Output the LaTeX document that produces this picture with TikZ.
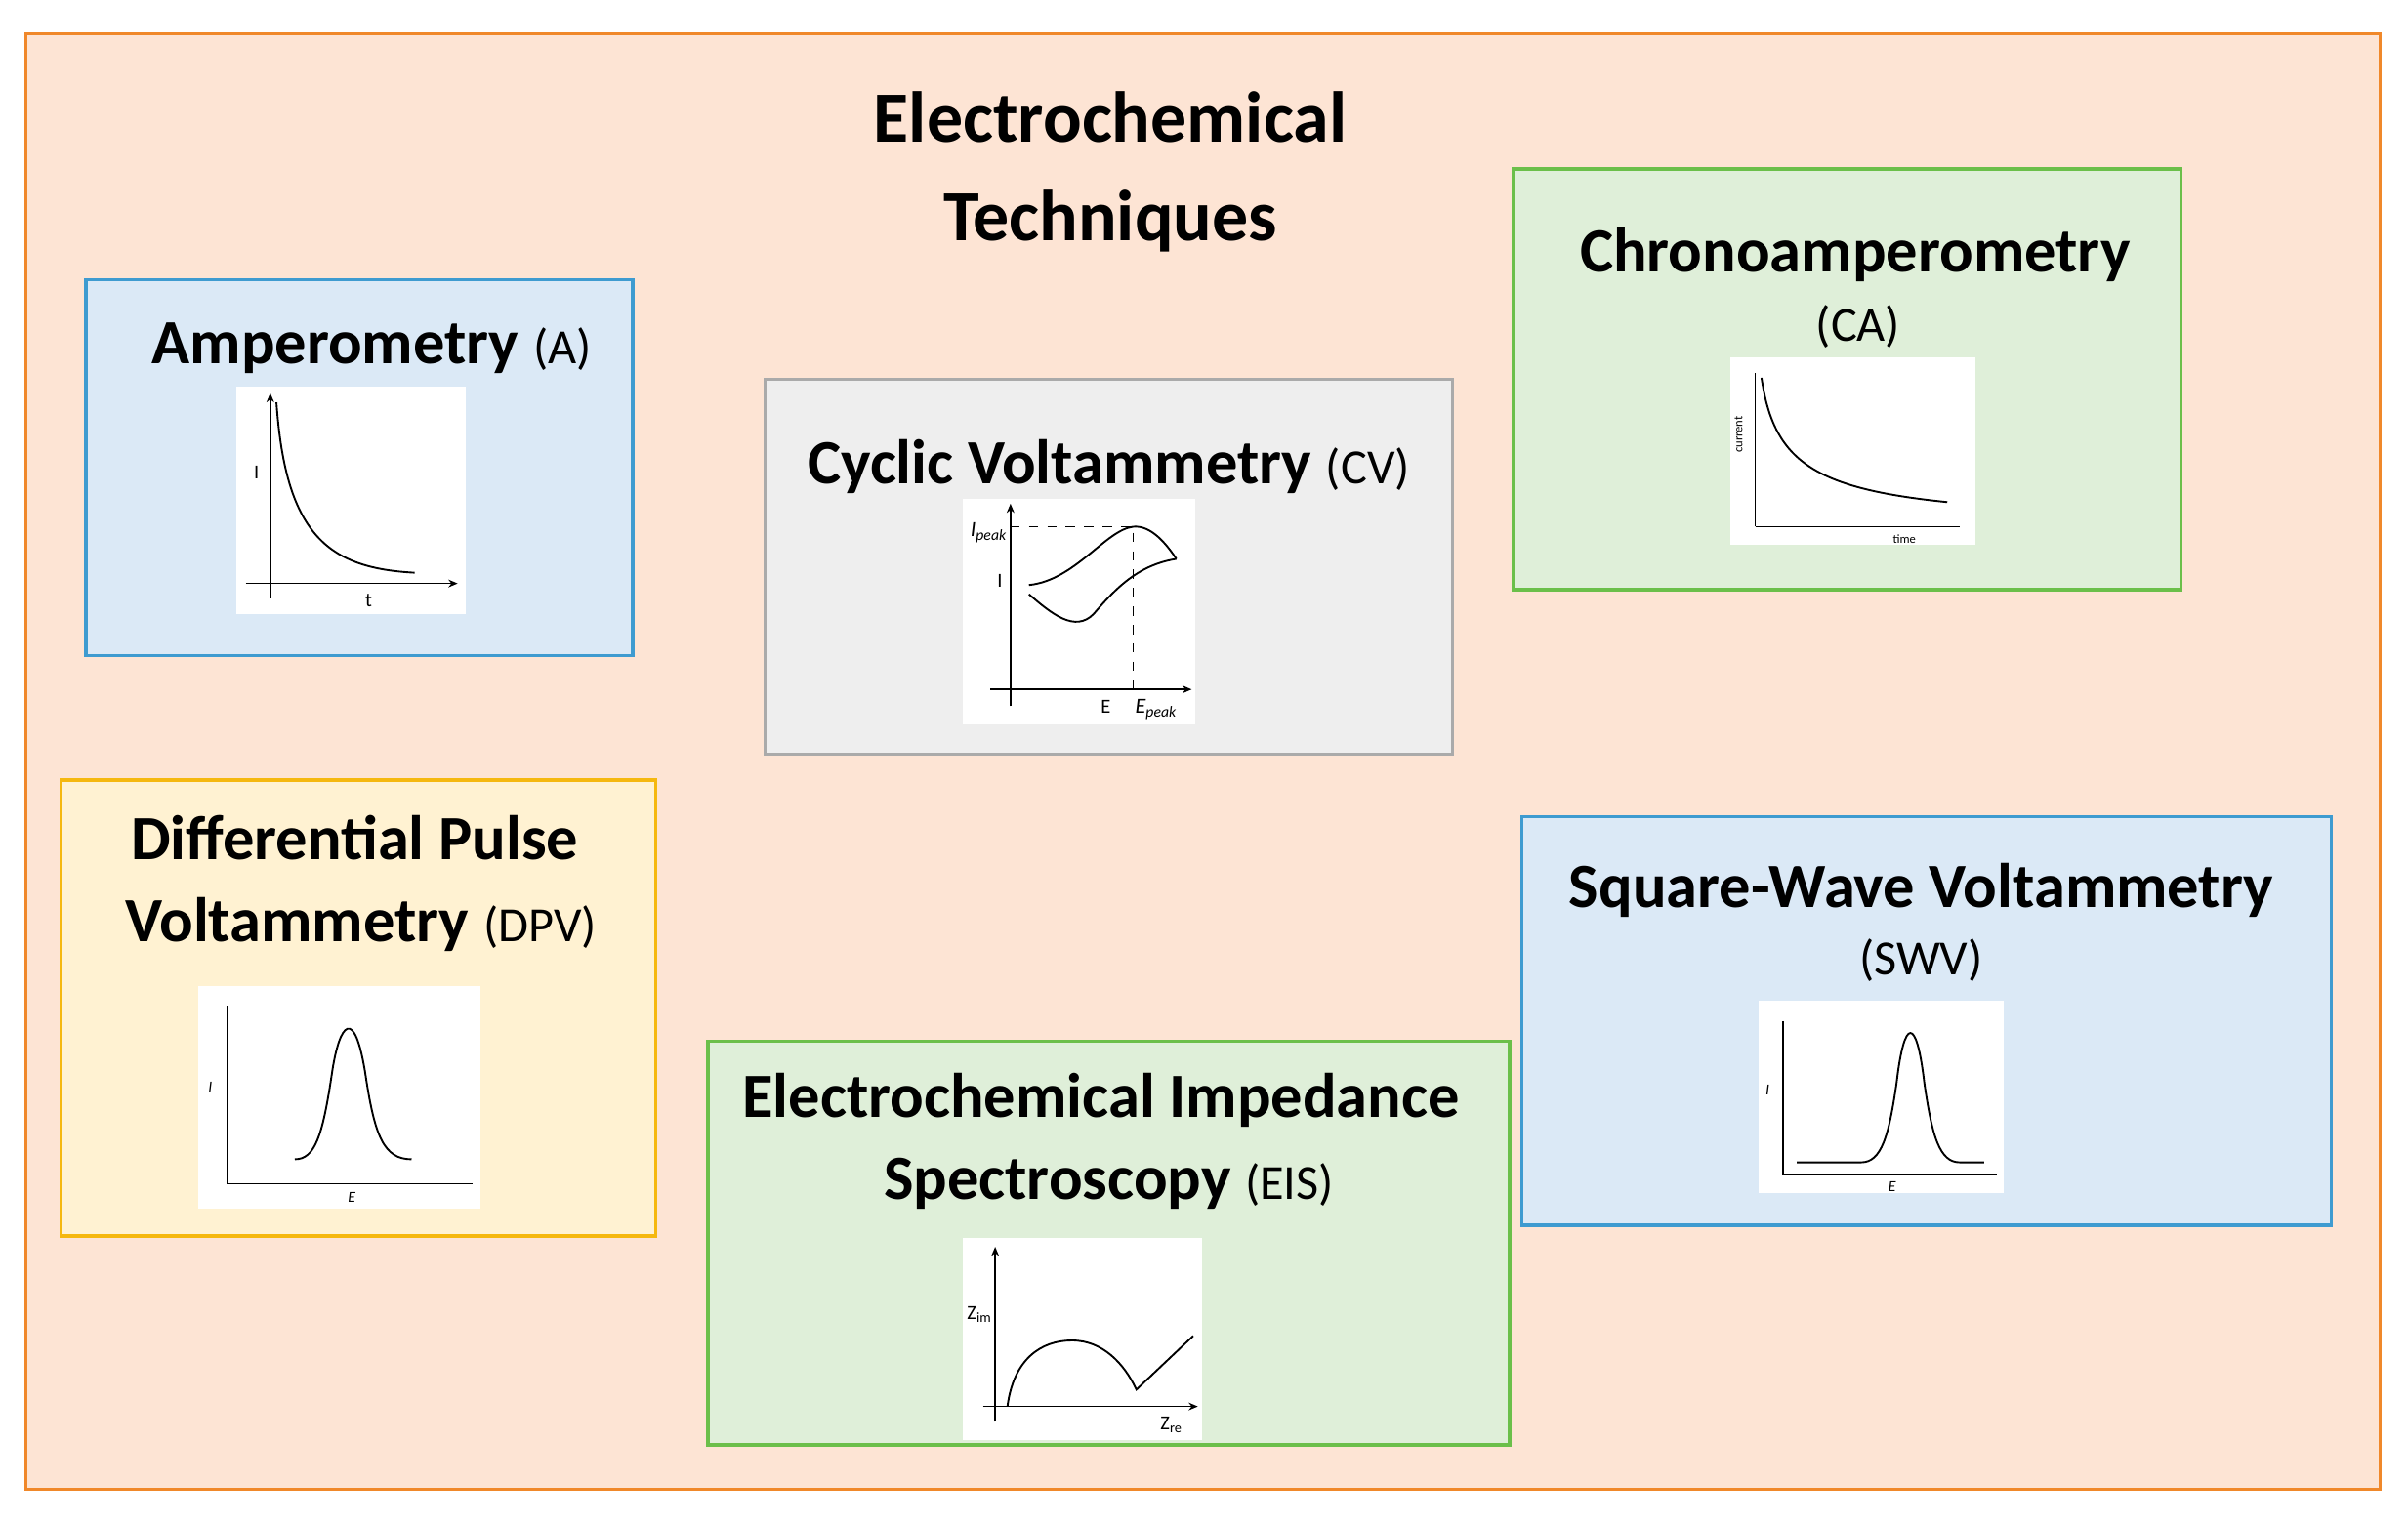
\documentclass[tikz,border=0pt]{standalone}
\usepackage{fontspec}
\setmainfont{Carlito}
\usetikzlibrary{arrows.meta}
\definecolor{peach}{HTML}{FDE4D4}
\definecolor{orangeb}{HTML}{F0882A}
\definecolor{lblue}{HTML}{DBE9F6}
\definecolor{bblue}{HTML}{3E9BD0}
\definecolor{lgray}{HTML}{EEEEEE}
\definecolor{ggray}{HTML}{AAAAAA}
\definecolor{lgreen}{HTML}{DFEFD9}
\definecolor{ggreen}{HTML}{6BBF4A}
\definecolor{lyel}{HTML}{FFF2D2}
\definecolor{yel}{HTML}{F5B80F}
\begin{document}
\begin{tikzpicture}[x=0.5pt,y=-0.5pt,
  box/.style={line width=1pt},
  plotbg/.style={fill=white,draw=none},
  ax/.style={line width=0.5pt,-{Stealth[length=3pt,width=2.5pt]}},
  axn/.style={line width=0.5pt},
  crv/.style={line width=0.6pt},
  ttl/.style={font=\fontsize{20.5}{24}\selectfont\bfseries,align=center},
  abb/.style={font=\fontsize{16}{20}\selectfont},
  lab/.style={font=\fontsize{6.5}{7}\selectfont,inner sep=0pt},
  tiny/.style={font=\fontsize{4}{5}\selectfont,inner sep=0pt}]
\useasboundingbox (0,0) rectangle (1568,992);
\fill[white] (0,0) rectangle (1568,992);
\draw[box,fill=peach,draw=orangeb] (17,22) rectangle (1550,970);
\node[font=\fontsize{23.5}{32}\selectfont\bfseries,align=center] (title) at (723,112) {Electrochemical\\Techniques};

% Amperometry
\draw[box,fill=lblue,draw=bblue] (56,182) rectangle (412,427);
\node[ttl,anchor=base] (ta) at (242,237) {Amperometry \textmd{\fontsize{16}{20}\selectfont(A)}};
\fill[plotbg] (154,252) rectangle (303,400);
\draw[ax] (176,390) -- (176,256);
\draw[ax] (160,380) -- (298,380);
\draw[crv] (180,262) .. controls (186,350) and (215,370) .. (270,373);
\node[lab] at (167,308) {I};
\node[lab] at (240,391) {t};

% CV
\draw[box,fill=lgray,draw=ggray] (498,247) rectangle (946,491);
\node[ttl,anchor=base] (tcv) at (722,315) {Cyclic Voltammetry \textmd{\fontsize{16}{20}\selectfont(CV)}};
\fill[plotbg] (627,325) rectangle (778,472);
\draw[ax] (658,460) -- (658,328);
\draw[ax] (645,449) -- (776,449);
\draw[axn,dashed] (658,343) -- (738,343) -- (738,449);
\draw[crv] (670,381) .. controls (700,378) and (720,345) .. (738,343) .. controls (750,342) and (760,355) .. (766,364);
\draw[crv] (670,387) .. controls (685,400) and (700,412) .. (712,400) .. controls (725,385) and (740,368) .. (766,364);
\node[lab,font=\fontsize{7}{8}\selectfont\itshape] at (644,347) {I\textsubscript{peak}};
\node[lab] at (651,378) {I};
\node[lab] at (720,460) {E};
\node[lab,font=\fontsize{7}{8}\selectfont\itshape] at (753,462) {E\textsubscript{peak}};

% CA
\draw[box,fill=lgreen,draw=ggreen] (985,110) rectangle (1420,384);
\node[ttl,anchor=base] (tca) at (1208,177) {Chronoamperometry};
\node[abb,anchor=base] (tca2) at (1210,222) {(CA)};
\fill[plotbg] (1127,233) rectangle (1286,355);
\draw[axn] (1143,343) -- (1143,243);
\draw[axn] (1143,343) -- (1276,343);
\draw[crv] (1147,246) .. controls (1155,300) and (1180,318) .. (1268,327);
\node[tiny,rotate=90] at (1132,283) {current};
\node[tiny] at (1240,351) {time};

% DPV
\draw[box,fill=lyel,draw=yel] (40,508) rectangle (427,805);
\node[ttl,anchor=base] (td) at (231,560) {Differential Pulse};
\node[ttl,anchor=base] (td2) at (235,613) {Voltammetry \textmd{\fontsize{16}{20}\selectfont(DPV)}};
\fill[plotbg] (129,642) rectangle (313,787);
\draw[axn] (148,655) -- (148,771) -- (308,771);
\draw[crv] (192,755) .. controls (205,755) and (210,740) .. (216,700) .. controls (221,665) and (231,655) .. (238,700) .. controls (244,740) and (250,755) .. (268,755);
\node[lab,font=\fontsize{5}{6}\selectfont\itshape] at (137,708) {I};
\node[lab,font=\fontsize{5}{6}\selectfont\itshape] at (229,780) {E};

% SWV
\draw[box,fill=lblue,draw=bblue] (991,532) rectangle (1518,798);
\node[ttl,anchor=base] (ts) at (1251,591) {Square-Wave Voltammetry};
\node[abb,anchor=base] (ts2) at (1251,635) {(SWV)};
\fill[plotbg] (1145,652) rectangle (1305,777);
\draw[axn] (1161,665) -- (1161,765) -- (1300,765);
\draw[crv] (1170,757) -- (1212,757) .. controls (1225,757) and (1230,740) .. (1235,705) .. controls (1240,662) and (1248,662) .. (1253,705) .. controls (1258,740) and (1263,757) .. (1276,757) -- (1292,757);
\node[lab,font=\fontsize{5}{6}\selectfont\itshape] at (1151,710) {I};
\node[lab,font=\fontsize{5}{6}\selectfont\itshape] at (1232,773) {E};

% EIS
\draw[box,fill=lgreen,draw=ggreen] (461,678) rectangle (983,941);
\node[ttl,anchor=base] (te) at (717,728) {Electrochemical Impedance};
\node[ttl,anchor=base] (te2) at (722,781) {Spectroscopy \textmd{\fontsize{16}{20}\selectfont(EIS)}};
\fill[plotbg] (627,806) rectangle (783,938);
\draw[ax] (648,926) -- (648,812);
\draw[ax] (640,916) -- (780,916);
\draw[crv] (656,916) .. controls (660,885) and (678,873) .. (698,873) .. controls (718,873) and (732,888) .. (740,905) -- (777,870);
\node[lab] at (638,856) {Z\textsubscript{im}};
\node[lab] at (763,928) {Z\textsubscript{re}};
\end{tikzpicture}
\end{document}
